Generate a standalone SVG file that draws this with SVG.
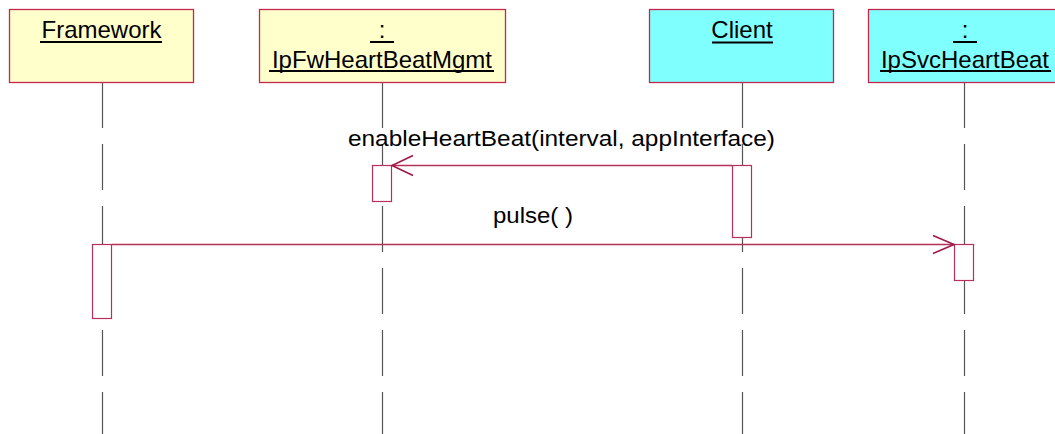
<svg xmlns="http://www.w3.org/2000/svg" width="1055" height="434" viewBox="0 0 1055 434">
<style>
.box{stroke:#c0284e;stroke-width:1.3}
.yel{fill:#ffffcc}
.cya{fill:#80ffff}
.t{font-family:"Liberation Sans",Arial,sans-serif;font-size:24px;fill:#000;text-anchor:middle}
.m{font-family:"Liberation Sans",Arial,sans-serif;font-size:22px;fill:#000;text-anchor:middle}
.ul{stroke:#000;stroke-width:2}
.life{stroke:#555;stroke-width:1.2;stroke-dasharray:46 16;fill:none}
.act{fill:#fff;stroke:#b8305a;stroke-width:1.2}
.msg{stroke:#b8305a;stroke-width:1.3;fill:none}
.head{stroke:#a01848;stroke-width:1.6;fill:none}
</style>
<g id="lifelines">
<line class="life" x1="102.5" y1="82" x2="102.5" y2="434"/>
<line class="life" x1="382.5" y1="82" x2="382.5" y2="434"/>
<line class="life" x1="742.5" y1="82" x2="742.5" y2="434"/>
<line class="life" x1="964.5" y1="82" x2="964.5" y2="434"/>
</g>
<g id="node-framework">
<rect class="box yel" x="9.5" y="9.5" width="184" height="73"/>
<text class="t" x="101.5" y="38">Framework</text>
<line class="ul" x1="40" y1="42" x2="162" y2="42"/>
</g>
<g id="node-ipfwheartbeatmgmt">
<rect class="box yel" x="259.5" y="9.5" width="246" height="73"/>
<text class="t" x="382" y="38">:</text>
<line class="ul" x1="370" y1="42" x2="394" y2="42"/>
<text class="t" x="382" y="68">IpFwHeartBeatMgmt</text>
<line class="ul" x1="269" y1="71" x2="494" y2="71"/>
</g>
<g id="node-client">
<rect class="box cya" x="649.5" y="9.5" width="184" height="73"/>
<text class="t" x="742" y="38">Client</text>
<line class="ul" x1="712" y1="42.5" x2="773" y2="42.5"/>
</g>
<g id="node-ipsvcheartbeat">
<rect class="box cya" x="868.5" y="9.5" width="194" height="73"/>
<text class="t" x="965" y="38">:</text>
<line class="ul" x1="953" y1="42" x2="977" y2="42"/>
<text class="t" x="965" y="68">IpSvcHeartBeat</text>
<line class="ul" x1="880" y1="71" x2="1051" y2="71"/>
</g>
<g id="activations">
<rect class="act" x="372.5" y="165.5" width="19" height="36"/>
<rect class="act" x="732.5" y="165.5" width="19" height="72"/>
<rect class="act" x="92.5" y="244.5" width="19" height="74"/>
<rect class="act" x="954.5" y="244.5" width="19" height="36"/>
</g>
<g id="connectors">
<line class="msg" x1="732" y1="165.5" x2="392" y2="165.5"/>
<polyline class="head" points="413,155.5 392,165.5 413,175.5"/>
<text class="m" x="561.5" y="146" textLength="427" lengthAdjust="spacingAndGlyphs">enableHeartBeat(interval, appInterface)</text>
<line class="msg" x1="112" y1="244.5" x2="954" y2="244.5"/>
<polyline class="head" points="933,235.5 954,244.5 933,253.5"/>
<text class="m" x="533" y="223" textLength="80" lengthAdjust="spacingAndGlyphs">pulse( )</text>
</g>
</svg>
